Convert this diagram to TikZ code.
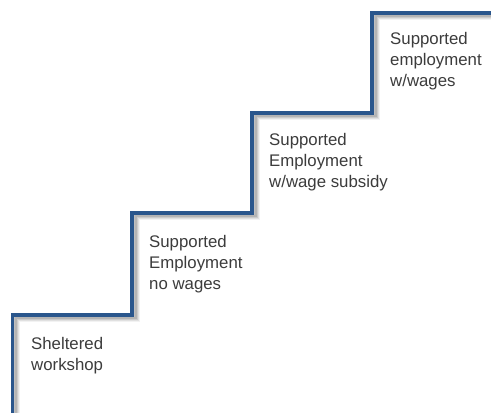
\documentclass[tikz,border=0pt]{standalone}
\usepackage{fontspec}
\setmainfont{Liberation Sans}
\definecolor{stairblue}{RGB}{42,86,140}
\definecolor{labelgray}{RGB}{60,60,60}
\tikzset{
  stair/.style={draw=stairblue, line width=3.8bp, line join=miter},
  stairshadow/.style={draw=black, line width=5bp, line join=miter},
  steplabel/.style={align=left, anchor=base west, inner sep=0pt, text=labelgray,
    font=\fontsize{16.8bp}{20.8bp}\selectfont}
}
\begin{document}
\begin{tikzpicture}[x=1bp,y=-1bp]
\useasboundingbox (0,0) rectangle (491,412);
\fill[white] (0,0) rectangle (491,412);
% soft shadow
\foreach \o/\a in {5/0.05,4/0.07,3/0.09,2/0.11}{
  \draw[stairshadow, opacity=\a, shift={(\o,\o*0.8)}]
    (12.5,420) -- (12.5,315) -- (132,315) -- (132,213) -- (252,213) -- (252,113) -- (372,113) -- (372,13) -- (500,13);
}
\draw[stair]
  (12.5,420) -- (12.5,315) -- (132,315) -- (132,213) -- (252,213) -- (252,113) -- (372,113) -- (372,13) -- (500,13);
% anchors are at the baseline of each label's last line
\node[steplabel] (s1) at (31,370) {Sheltered\\workshop};
\node[steplabel] (s2) at (149,289) {Supported\\Employment\\no wages};
\node[steplabel] (s3) at (269,187) {Supported\\Employment\\w/wage subsidy};
\node[steplabel] (s4) at (390,86) {Supported\\employment\\w/wages};
\end{tikzpicture}
\end{document}
